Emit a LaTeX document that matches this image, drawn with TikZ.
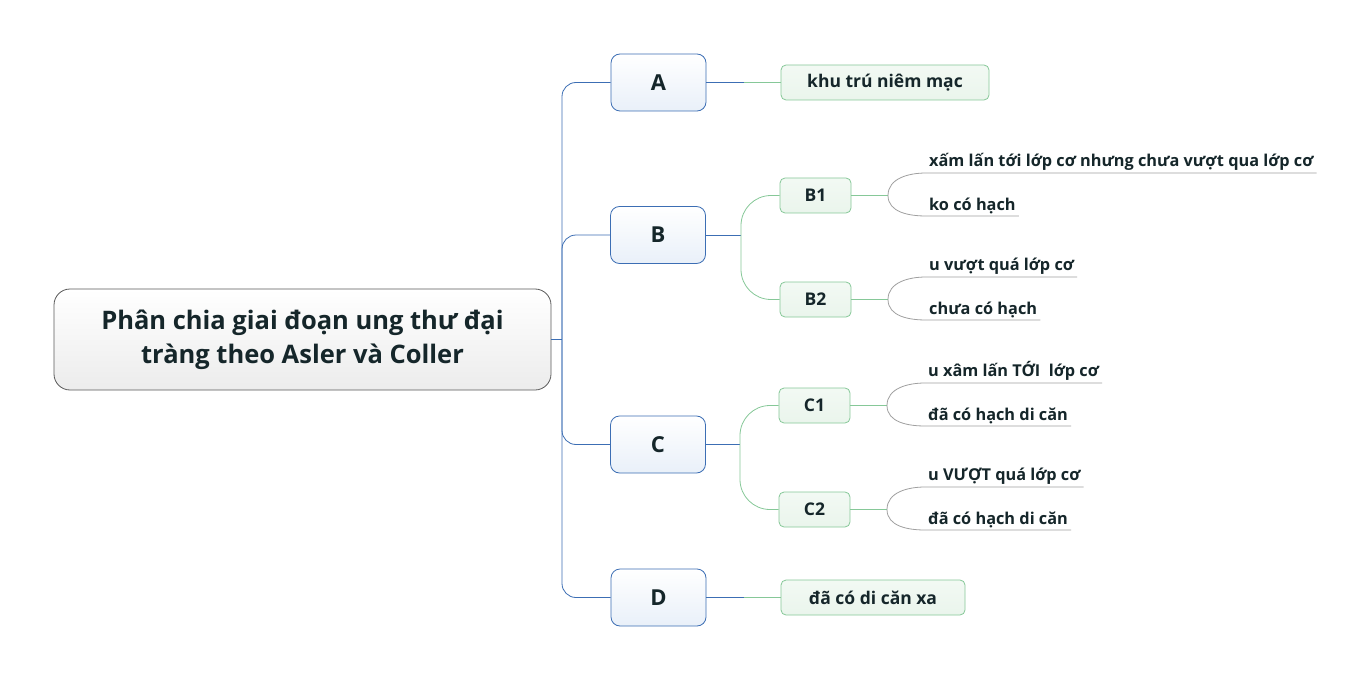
\documentclass[tikz,border=0pt]{standalone}
\usepackage{fontspec}
\setmainfont{Open Sans}
\definecolor{rootline}{HTML}{5A5A5A}
\definecolor{rootfill}{HTML}{ECECEC}
\definecolor{blueline}{HTML}{3C6EB4}
\definecolor{bluefill}{HTML}{E9F0F9}
\definecolor{greenline}{HTML}{86C898}
\definecolor{greenfill}{HTML}{EAF5EC}
\definecolor{grayline}{HTML}{A0A0A0}
\definecolor{textdark}{HTML}{15262A}
\begin{document}
\begin{tikzpicture}[x=1pt,y=-1pt,
    root/.style={draw=rootline, line width=0.8pt, rounded corners=16pt, top color=white, bottom color=rootfill,
      minimum width=497pt, minimum height=101pt, align=center, text=textdark,
      font=\bfseries\fontsize{25.5}{34}\selectfont},
    stage/.style={draw=blueline, line width=0.8pt, rounded corners=9pt, top color=white, bottom color=bluefill,
      minimum width=95pt, minimum height=57pt, text=textdark, font=\bfseries\fontsize{22}{26}\selectfont},
    sub/.style={draw=greenline, line width=0.8pt, rounded corners=5pt, top color=white!40!greenfill, bottom color=greenfill,
      minimum height=35pt, text=textdark, font=\bfseries\fontsize{17.5}{20}\selectfont},
    note/.style={anchor=south west, inner xsep=3pt, inner ysep=2pt, text=textdark,
      font=\bfseries\fontsize{16.3}{19}\selectfont},
    bline/.style={draw=blueline, line width=0.8pt},
    gline/.style={draw=greenline, line width=0.8pt},
    hline/.style={draw=grayline, line width=0.8pt}]
  \fill[white] (0,0) rectangle (1370,679);
  \useasboundingbox (0,0) rectangle (1370,679);

  \node (root) at (302.5,339.5) [root] {Phân chia giai đoạn ung thư đại\\tràng theo Asler và Coller};

  \node (A) at (658.5,82.5) [stage] {A};
  \node (B) at (658,235) [stage] {B};
  \node (C) at (658,444.5) [stage] {C};
  \node (D) at (658.5,597.5) [stage] {D};

  \node (khu) at (885,82.5) [sub, minimum width=208pt] {khu trú niêm mạc};
  \node (xa) at (873,597.5) [sub, minimum width=184pt] {đã có di căn xa};

  \node (B1) at (815.5,195.5) [sub, minimum width=71pt] {B1};
  \node (B2) at (815.5,299.5) [sub, minimum width=71pt] {B2};
  \node (C1) at (814.5,405.5) [sub, minimum width=71pt] {C1};
  \node (C2) at (814.5,509.5) [sub, minimum width=71pt] {C2};

  \node (b1a) at (926,173) [note] {xấm lấn tới lớp cơ nhưng chưa vượt qua lớp cơ};
  \node (b1b) at (926,216) [note] {ko có hạch};
  \node (b2a) at (926,277) [note] {u vượt quá lớp cơ};
  \node (b2b) at (926,320) [note] {chưa có hạch};
  \node (c1a) at (925,383) [note] {u xâm lấn TỚI\ \ lớp cơ};
  \node (c1b) at (925,426) [note] {đã có hạch di căn};
  \node (c2a) at (925,487) [note] {u VƯỢT quá lớp cơ};
  \node (c2b) at (925,530) [note] {đã có hạch di căn};

  \coordinate (T) at (562,339.5);
  \coordinate (a0) at (744,82.5);
  \coordinate (d0) at (744,597.5);
  \coordinate (b0) at (741,235);
  \coordinate (c0) at (740,444.5);
  \coordinate (jb1) at (888,195.5);
  \coordinate (jb2) at (888,299.5);
  \coordinate (jc1) at (887,405.5);
  \coordinate (jc2) at (887,509.5);

  \draw[bline] (root.east) to (T);
  \draw[bline, rounded corners=14pt] (T) |- (A.west);
  \draw[bline, rounded corners=14pt] (T) |- (B.west);
  \draw[bline, rounded corners=14pt] (T) |- (C.west);
  \draw[bline, rounded corners=14pt] (T) |- (D.west);

  \draw[bline] (A.east) to (a0);
  \draw[gline] (a0) to (khu.west);
  \draw[bline] (D.east) to (d0);
  \draw[gline] (d0) to (xa.west);

  \draw[bline] (B.east) to (b0);
  \draw[gline, rounded corners=30pt] (b0) |- (B1.west);
  \draw[gline, rounded corners=30pt] (b0) |- (B2.west);
  \draw[bline] (C.east) to (c0);
  \draw[gline, rounded corners=30pt] (c0) |- (C1.west);
  \draw[gline, rounded corners=30pt] (c0) |- (C2.west);

  \draw[gline] (B1.east) to (jb1);
  \draw[gline] (B2.east) to (jb2);
  \draw[gline] (C1.east) to (jc1);
  \draw[gline] (C2.east) to (jc2);

  \draw[hline] (jb1) to[out=90,in=180] (b1a.south west) -- (b1a.south east);
  \draw[hline] (jb1) to[out=-90,in=180] (b1b.south west) -- (b1b.south east);
  \draw[hline] (jb2) to[out=90,in=180] (b2a.south west) -- (b2a.south east);
  \draw[hline] (jb2) to[out=-90,in=180] (b2b.south west) -- (b2b.south east);
  \draw[hline] (jc1) to[out=90,in=180] (c1a.south west) -- (c1a.south east);
  \draw[hline] (jc1) to[out=-90,in=180] (c1b.south west) -- (c1b.south east);
  \draw[hline] (jc2) to[out=90,in=180] (c2a.south west) -- (c2a.south east);
  \draw[hline] (jc2) to[out=-90,in=180] (c2b.south west) -- (c2b.south east);
\end{tikzpicture}
\end{document}
